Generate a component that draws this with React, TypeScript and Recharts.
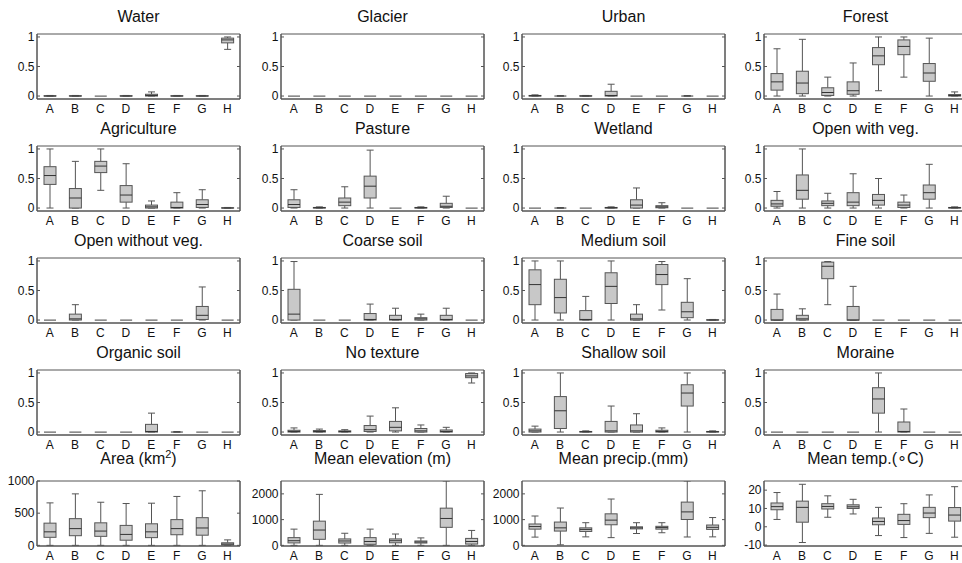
import React from "react";
import { ComposedChart, Bar, XAxis, YAxis, ReferenceArea } from "recharts";

// five-number summaries per category: [min, q1, median, q3, max]
const CATEGORIES = ["A", "B", "C", "D", "E", "F", "G", "H"];

const water = [
  [0, 0, 0, 0.005, 0.01], [0, 0, 0, 0.005, 0.01], [0, 0, 0, 0, 0], [0, 0, 0, 0.005, 0.01],
  [0, 0, 0.01, 0.03, 0.07], [0, 0, 0, 0.005, 0.01], [0, 0, 0, 0.005, 0.01], [0.79, 0.9, 0.95, 0.98, 1.0],
];
const glacier = [
  [0, 0, 0, 0, 0], [0, 0, 0, 0, 0], [0, 0, 0, 0, 0], [0, 0, 0, 0, 0],
  [0, 0, 0, 0, 0], [0, 0, 0, 0, 0], [0, 0, 0, 0, 0], [0, 0, 0, 0, 0],
];
const urban = [
  [0, 0, 0.005, 0.01, 0.02], [0, 0, 0, 0, 0.005], [0, 0, 0, 0.005, 0.01], [0, 0, 0.01, 0.08, 0.2],
  [0, 0, 0, 0, 0], [0, 0, 0, 0, 0], [0, 0, 0, 0, 0.005], [0, 0, 0, 0, 0],
];
const forest = [
  [0, 0.1, 0.24, 0.38, 0.8], [0, 0.04, 0.22, 0.42, 0.96], [0, 0.01, 0.06, 0.14, 0.32], [0, 0.03, 0.09, 0.24, 0.56],
  [0.09, 0.53, 0.68, 0.82, 1.0], [0.32, 0.7, 0.84, 0.95, 1.0], [0, 0.25, 0.39, 0.55, 0.98], [0, 0, 0.01, 0.025, 0.07],
];
const agriculture = [
  [0, 0.4, 0.55, 0.7, 1.0], [0, 0, 0.17, 0.33, 0.79], [0.3, 0.6, 0.71, 0.79, 1.0], [0, 0.1, 0.22, 0.38, 0.75],
  [0, 0, 0.02, 0.05, 0.12], [0, 0, 0.01, 0.1, 0.26], [0, 0.01, 0.06, 0.14, 0.31], [0, 0, 0, 0.005, 0.01],
];
const pasture = [
  [0, 0.01, 0.06, 0.14, 0.31], [0, 0, 0.005, 0.01, 0.02], [0, 0.04, 0.1, 0.17, 0.36], [0, 0.17, 0.37, 0.54, 0.98],
  [0, 0, 0, 0, 0], [0, 0, 0.005, 0.01, 0.02], [0, 0.01, 0.03, 0.08, 0.2], [0, 0, 0, 0, 0],
];
const wetland = [
  [0, 0, 0, 0, 0], [0, 0, 0, 0, 0.005], [0, 0, 0, 0, 0], [0, 0, 0.005, 0.01, 0.02],
  [0, 0, 0.05, 0.14, 0.34], [0, 0.005, 0.02, 0.04, 0.09], [0, 0, 0, 0, 0], [0, 0, 0, 0, 0],
];
const openWithVeg = [
  [0, 0.03, 0.07, 0.13, 0.28], [0, 0.15, 0.3, 0.56, 1.0], [0, 0.04, 0.08, 0.12, 0.25], [0, 0.04, 0.1, 0.26, 0.58],
  [0, 0.05, 0.13, 0.23, 0.5], [0, 0.01, 0.05, 0.1, 0.22], [0, 0.15, 0.26, 0.39, 0.74], [0, 0, 0.005, 0.01, 0.02],
];
const openWithoutVeg = [
  [0, 0, 0, 0, 0], [0, 0, 0.02, 0.1, 0.26], [0, 0, 0, 0, 0], [0, 0, 0, 0, 0],
  [0, 0, 0, 0, 0], [0, 0, 0, 0, 0], [0, 0.01, 0.08, 0.23, 0.56], [0, 0, 0, 0, 0],
];
const coarseSoil = [
  [0, 0, 0.1, 0.52, 0.99], [0, 0, 0, 0, 0], [0, 0, 0, 0, 0], [0, 0, 0.01, 0.11, 0.27],
  [0, 0, 0.01, 0.08, 0.2], [0, 0, 0.02, 0.04, 0.1], [0, 0, 0.01, 0.08, 0.2], [0, 0, 0, 0, 0],
];
const mediumSoil = [
  [0, 0.26, 0.6, 0.85, 1.0], [0, 0.12, 0.38, 0.69, 1.0], [0, 0, 0.01, 0.16, 0.4], [0, 0.28, 0.57, 0.8, 1.0],
  [0, 0, 0.02, 0.1, 0.26], [0.17, 0.6, 0.77, 0.94, 0.99], [0, 0.04, 0.14, 0.3, 0.7], [0, 0, 0, 0.005, 0.01],
];
const fineSoil = [
  [0, 0, 0, 0.18, 0.44], [0, 0, 0.02, 0.08, 0.19], [0.26, 0.7, 0.91, 0.98, 0.99], [0, 0, 0, 0.23, 0.57],
  [0, 0, 0, 0, 0], [0, 0, 0, 0, 0], [0, 0, 0, 0, 0], [0, 0, 0, 0, 0],
];
const organicSoil = [
  [0, 0, 0, 0, 0], [0, 0, 0, 0, 0], [0, 0, 0, 0, 0], [0, 0, 0, 0, 0],
  [0, 0, 0.01, 0.13, 0.32], [0, 0, 0, 0, 0.005], [0, 0, 0, 0, 0], [0, 0, 0, 0, 0],
];
const noTexture = [
  [0, 0, 0.01, 0.03, 0.07], [0, 0, 0.01, 0.025, 0.05], [0, 0, 0.01, 0.02, 0.04], [0, 0.01, 0.04, 0.11, 0.27],
  [0, 0.02, 0.08, 0.18, 0.41], [0, 0, 0.02, 0.06, 0.12], [0, 0, 0.01, 0.035, 0.08], [0.83, 0.92, 0.95, 0.99, 1.0],
];
const shallowSoil = [
  [0, 0, 0.02, 0.05, 0.1], [0, 0.06, 0.36, 0.6, 1.0], [0, 0, 0.005, 0.01, 0.02], [0, 0, 0.02, 0.18, 0.44],
  [0, 0, 0.02, 0.12, 0.31], [0, 0, 0.01, 0.03, 0.07], [0, 0.44, 0.66, 0.8, 1.0], [0, 0, 0.005, 0.01, 0.02],
];
const moraine = [
  [0, 0, 0, 0, 0], [0, 0, 0, 0, 0], [0, 0, 0, 0, 0], [0, 0, 0, 0, 0],
  [0, 0.32, 0.56, 0.75, 1.0], [0, 0, 0.01, 0.17, 0.39], [0, 0, 0, 0, 0], [0, 0, 0, 0, 0],
];
const area = [
  [0, 125, 210, 345, 660], [0, 150, 260, 415, 800], [0, 140, 222, 350, 670], [0, 80, 170, 310, 650],
  [0, 120, 210, 335, 655], [0, 165, 260, 400, 760], [0, 158, 270, 430, 848], [0, 5, 20, 40, 85],
];
const elevation = [
  [0, 95, 180, 300, 630], [0, 235, 595, 940, 1980], [0, 90, 170, 250, 470], [0, 40, 150, 300, 630],
  [0, 100, 180, 250, 440], [0, 90, 130, 170, 290], [0, 700, 1045, 1445, 2500], [0, 50, 150, 270, 580],
];
const precip = [
  [320, 630, 730, 830, 1140], [20, 555, 680, 905, 1450], [330, 540, 620, 680, 880], [300, 800, 980, 1225, 1800],
  [460, 640, 680, 720, 880], [490, 630, 690, 740, 880], [325, 1005, 1300, 1680, 2500], [330, 620, 700, 790, 1080],
];
const temp = [
  [4, 9.3, 11, 13, 18.7], [-8.6, 2.5, 10.6, 14, 23.2], [5.2, 9.7, 11.1, 12.6, 16.9], [7, 10, 10.9, 12, 15],
  [-4.8, 1.1, 2.9, 4.8, 10.6], [-5.9, 1.3, 3.4, 6.8, 12.6], [-3.6, 5, 7.5, 10.6, 17.4], [-5.7, 3.1, 6.4, 10.5, 21.9],
];

const FRACTION_DOMAIN = [-0.05, 1.05];
const FRACTION_TICKS = [0, 0.5, 1];

const PANELS = [
  { title: "Water", data: water, domain: FRACTION_DOMAIN, ticks: FRACTION_TICKS },
  { title: "Glacier", data: glacier, domain: FRACTION_DOMAIN, ticks: FRACTION_TICKS },
  { title: "Urban", data: urban, domain: FRACTION_DOMAIN, ticks: FRACTION_TICKS },
  { title: "Forest", data: forest, domain: FRACTION_DOMAIN, ticks: FRACTION_TICKS },
  { title: "Agriculture", data: agriculture, domain: FRACTION_DOMAIN, ticks: FRACTION_TICKS },
  { title: "Pasture", data: pasture, domain: FRACTION_DOMAIN, ticks: FRACTION_TICKS },
  { title: "Wetland", data: wetland, domain: FRACTION_DOMAIN, ticks: FRACTION_TICKS },
  { title: "Open with veg.", data: openWithVeg, domain: FRACTION_DOMAIN, ticks: FRACTION_TICKS },
  { title: "Open without veg.", data: openWithoutVeg, domain: FRACTION_DOMAIN, ticks: FRACTION_TICKS },
  { title: "Coarse soil", data: coarseSoil, domain: FRACTION_DOMAIN, ticks: FRACTION_TICKS },
  { title: "Medium soil", data: mediumSoil, domain: FRACTION_DOMAIN, ticks: FRACTION_TICKS },
  { title: "Fine soil", data: fineSoil, domain: FRACTION_DOMAIN, ticks: FRACTION_TICKS },
  { title: "Organic soil", data: organicSoil, domain: FRACTION_DOMAIN, ticks: FRACTION_TICKS },
  { title: "No texture", data: noTexture, domain: FRACTION_DOMAIN, ticks: FRACTION_TICKS },
  { title: "Shallow soil", data: shallowSoil, domain: FRACTION_DOMAIN, ticks: FRACTION_TICKS },
  { title: "Moraine", data: moraine, domain: FRACTION_DOMAIN, ticks: FRACTION_TICKS },
  { title: <>Area (km<sup style={{ fontSize: 11, lineHeight: 0 }}>2</sup>)</>, data: area, domain: [-10, 1000], ticks: [0, 500, 1000] },
  { title: "Mean elevation (m)", data: elevation, domain: [-25, 2500], ticks: [0, 1000, 2000] },
  { title: "Mean precip.(mm)", data: precip, domain: [-25, 2500], ticks: [0, 1000, 2000] },
  { title: "Mean temp.(\u2218C)", data: temp, domain: [-10.5, 25], ticks: [-10, 0, 10, 20] },
];

const COL_LEFT = [37, 281, 522, 764];
const ROW_TOP = [34, 146, 258, 370, 481];
const TITLE_TOP = [7, 7, 7, 7, 2];
const PLOT_W = 203;
const PLOT_H = 65;
const AXIS_W = 37;
const FONT = "Arial, 'Liberation Sans', sans-serif";
const LINE = "#555";
const FRAME = "#555";
const BOX_FILL = "#c8c8c8";

const BoxShape = (props: any) => {
  const { x, y, width, height, payload } = props;
  const [mn, q1, md, q3, mx] = payload.stats;
  const cx = x + width / 2;
  if (mx === mn) {
    return <line x1={x} x2={x + width} y1={y} y2={y} stroke="#666" strokeWidth={1.2} />;
  }
  const k = height / (mx - mn);
  const py = (v: number) => y + (mx - v) * k;
  const cap = 3.5;
  return (
    <g>
      <line x1={cx} x2={cx} y1={py(mx)} y2={py(q3)} stroke={LINE} />
      <line x1={cx} x2={cx} y1={py(q1)} y2={py(mn)} stroke={LINE} />
      <line x1={cx - cap} x2={cx + cap} y1={py(mx)} y2={py(mx)} stroke={LINE} />
      <line x1={cx - cap} x2={cx + cap} y1={py(mn)} y2={py(mn)} stroke={LINE} />
      <rect
        x={x}
        y={py(q3)}
        width={width}
        height={Math.max(py(q1) - py(q3), 0)}
        fill={BOX_FILL}
        stroke={LINE}
      />
      <line x1={x} x2={x + width} y1={py(md)} y2={py(md)} stroke="#333" />
    </g>
  );
};

const Panel = ({ panel, left, top, titleTop }: any) => {
  const rows = CATEGORIES.map((c, i) => ({ cat: c, stats: panel.data[i] }));
  return (
    <div style={{ position: "absolute", left: left - AXIS_W, top: top - 34 }}>
      <div
        style={{
          position: "absolute",
          left: AXIS_W,
          top: titleTop,
          width: PLOT_W,
          textAlign: "center",
          fontSize: 16,
          lineHeight: "20px",
          fontFamily: FONT,
          color: "#111",
          whiteSpace: "nowrap",
        }}
      >
        {panel.title}
      </div>
      <ComposedChart
        width={AXIS_W + PLOT_W + 6}
        height={34 + PLOT_H + 20}
        data={rows}
        margin={{ top: 34, right: 0, bottom: 0, left: 0 }}
      >
        <XAxis
          dataKey="cat"
          height={20}
          interval={0}
          tickSize={0}
          tickMargin={5}
          axisLine={{ stroke: FRAME }}
          tick={{ fill: "#111", fontSize: 12, fontFamily: FONT }}
        />
        <YAxis
          type="number"
          domain={panel.domain}
          ticks={panel.ticks}
          interval={0}
          width={AXIS_W}
          tickSize={-3}
          tickMargin={5.5}
          axisLine={{ stroke: FRAME }}
          tickLine={{ stroke: FRAME }}
          tick={{ fill: "#111", fontSize: 12, fontFamily: FONT }}
          allowDataOverflow
        />
        <YAxis
          yAxisId="r"
          orientation="right"
          type="number"
          domain={panel.domain}
          ticks={panel.ticks}
          interval={0}
          width={6}
          tickSize={-3}
          axisLine={{ stroke: FRAME }}
          tickLine={{ stroke: FRAME }}
          tickFormatter={() => ""}
          allowDataOverflow
        />
        <ReferenceArea
          x1="A"
          x2="H"
          y1={panel.domain[0]}
          y2={panel.domain[1]}
          ifOverflow="visible"
          fill="none"
          stroke={FRAME}
          strokeWidth={1}
        />
        <Bar
          dataKey={(d: any) => [d.stats[0], d.stats[4]]}
          barSize={12}
          shape={BoxShape}
          isAnimationActive={false}
        />
      </ComposedChart>
    </div>
  );
};

export default function App() {
  return (
    <div
      style={{
        position: "absolute",
        left: 0,
        top: 0,
        width: 962,
        height: 563,
        overflow: "hidden",
        background: "#fff",
      }}
    >
      {PANELS.map((p, i) => (
        <Panel
          key={i}
          panel={p}
          left={COL_LEFT[i % 4]}
          top={ROW_TOP[Math.floor(i / 4)]}
          titleTop={TITLE_TOP[Math.floor(i / 4)]}
        />
      ))}
    </div>
  );
}
